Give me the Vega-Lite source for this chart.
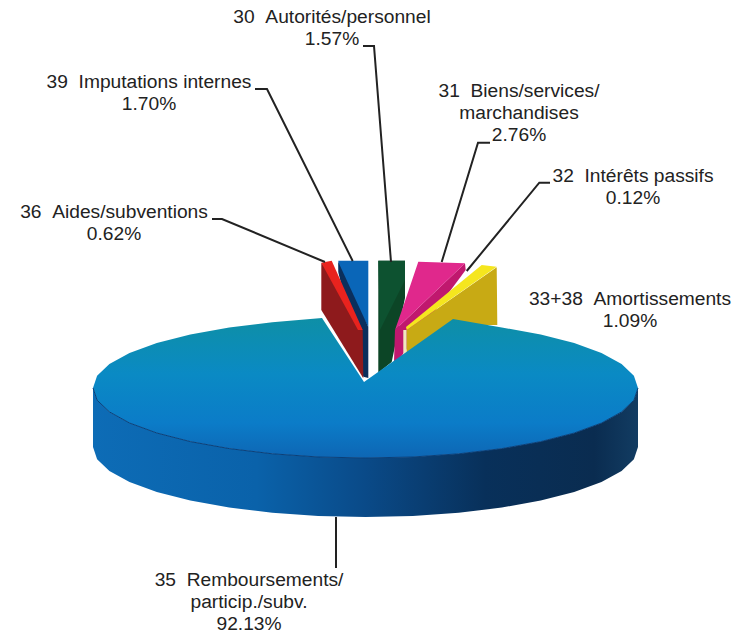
{
"$schema":"https://vega.github.io/schema/vega-lite/v6.json",
"width":734,"height":635,"padding":0,"autosize":{"type":"fit","contains":"padding"},
"background":"white",
"config":{"view":{"stroke":null}},
"datasets":{
"faces":[
{"part":"39 top","n":1,"x":338.3,"y":260.7},{"part":"39 top","n":2,"x":368.3,"y":260.7},{"part":"39 top","n":3,"x":368.3,"y":327},{"part":"39 top","n":4,"x":339,"y":275},
{"part":"39 side","n":1,"x":338.3,"y":262},{"part":"39 side","n":2,"x":338.3,"y":272},{"part":"39 side","n":3,"x":363.3,"y":376.7},{"part":"39 side","n":4,"x":368.3,"y":378},{"part":"39 side","n":5,"x":368.3,"y":327},
{"part":"36 side","n":1,"x":321.3,"y":262.7},{"part":"36 side","n":2,"x":321.3,"y":310},{"part":"36 side","n":3,"x":363.3,"y":378.3},{"part":"36 side","n":4,"x":362.7,"y":330},{"part":"36 side","n":5,"x":336.7,"y":280},
{"part":"36 top","n":1,"x":321.3,"y":262.7},{"part":"36 top","n":2,"x":331.7,"y":260.7},{"part":"36 top","n":3,"x":362.7,"y":330},{"part":"36 top","n":4,"x":358,"y":330},
{"part":"30 side","n":1,"x":378.3,"y":260.7},{"part":"30 side","n":2,"x":405,"y":260.7},{"part":"30 side","n":3,"x":405,"y":298},{"part":"30 side","n":4,"x":391.7,"y":362},{"part":"30 side","n":5,"x":381.7,"y":370},{"part":"30 side","n":6,"x":378.3,"y":373},
{"part":"30 top","n":1,"x":378.3,"y":260.7},{"part":"30 top","n":2,"x":405,"y":260.7},{"part":"30 top","n":3,"x":405,"y":280},{"part":"30 top","n":4,"x":380,"y":330},
{"part":"31 side","n":1,"x":465,"y":263.3},{"part":"31 side","n":2,"x":465.7,"y":270},{"part":"31 side","n":3,"x":400,"y":358},{"part":"31 side","n":4,"x":394,"y":361.7},{"part":"31 side","n":5,"x":395,"y":330},
{"part":"31 top","n":1,"x":418.3,"y":261.7},{"part":"31 top","n":2,"x":465,"y":263.3},{"part":"31 top","n":3,"x":395,"y":330},{"part":"31 top","n":4,"x":403,"y":307},
{"part":"32 side","n":1,"x":403.3,"y":330},{"part":"32 side","n":2,"x":406.7,"y":330},{"part":"32 side","n":3,"x":406.7,"y":353},{"part":"32 side","n":4,"x":403.3,"y":355},
{"part":"33 side","n":1,"x":496.7,"y":267.3},{"part":"33 side","n":2,"x":497.3,"y":325},{"part":"33 side","n":3,"x":453,"y":325},{"part":"33 side","n":4,"x":406.7,"y":354},{"part":"33 side","n":5,"x":406.7,"y":330},
{"part":"33 top","n":1,"x":481.7,"y":265},{"part":"33 top","n":2,"x":496.7,"y":266.7},{"part":"33 top","n":3,"x":406.7,"y":330},{"part":"33 top","n":4,"x":406,"y":327},
{"part":"35 side","n":1,"x":93,"y":388},{"part":"35 side","n":2,"x":97.1,"y":400.2},{"part":"35 side","n":3,"x":109.4,"y":411.9},{"part":"35 side","n":4,"x":129.5,"y":423},{"part":"35 side","n":5,"x":156.8,"y":433},{"part":"35 side","n":6,"x":190.3,"y":441.6},{"part":"35 side","n":7,"x":229.2,"y":448.6},{"part":"35 side","n":8,"x":272.3,"y":453.8},{"part":"35 side","n":9,"x":318.2,"y":457},{"part":"35 side","n":10,"x":365.5,"y":458},{"part":"35 side","n":11,"x":412.8,"y":457},{"part":"35 side","n":12,"x":458.7,"y":453.8},{"part":"35 side","n":13,"x":501.8,"y":448.6},{"part":"35 side","n":14,"x":540.7,"y":441.6},{"part":"35 side","n":15,"x":574.2,"y":433},{"part":"35 side","n":16,"x":601.5,"y":423},{"part":"35 side","n":17,"x":621.6,"y":411.9},{"part":"35 side","n":18,"x":633.9,"y":400.2},{"part":"35 side","n":19,"x":638,"y":388},
{"part":"35 side","n":20,"x":638,"y":447},{"part":"35 side","n":21,"x":633.9,"y":459.2},{"part":"35 side","n":22,"x":621.6,"y":470.9},{"part":"35 side","n":23,"x":601.5,"y":482},{"part":"35 side","n":24,"x":574.2,"y":492},{"part":"35 side","n":25,"x":540.7,"y":500.6},{"part":"35 side","n":26,"x":501.8,"y":507.6},{"part":"35 side","n":27,"x":458.7,"y":512.8},{"part":"35 side","n":28,"x":412.8,"y":516},{"part":"35 side","n":29,"x":365.5,"y":517},{"part":"35 side","n":30,"x":318.2,"y":516},{"part":"35 side","n":31,"x":272.3,"y":512.8},{"part":"35 side","n":32,"x":229.2,"y":507.6},{"part":"35 side","n":33,"x":190.3,"y":500.6},{"part":"35 side","n":34,"x":156.8,"y":492},{"part":"35 side","n":35,"x":129.5,"y":482},{"part":"35 side","n":36,"x":109.4,"y":470.9},{"part":"35 side","n":37,"x":97.1,"y":459.2},{"part":"35 side","n":38,"x":93,"y":447},
{"part":"35 top","n":1,"x":93,"y":388},{"part":"35 top","n":2,"x":97.1,"y":375.8},{"part":"35 top","n":3,"x":109.4,"y":364.1},{"part":"35 top","n":4,"x":129.5,"y":353},{"part":"35 top","n":5,"x":156.8,"y":343},{"part":"35 top","n":6,"x":190.3,"y":334.4},{"part":"35 top","n":7,"x":229.2,"y":327.4},{"part":"35 top","n":8,"x":272.3,"y":322.2},{"part":"35 top","n":9,"x":322,"y":318},{"part":"35 top","n":10,"x":364,"y":382},{"part":"35 top","n":11,"x":453,"y":319},{"part":"35 top","n":12,"x":501.8,"y":327.4},{"part":"35 top","n":13,"x":540.7,"y":334.4},{"part":"35 top","n":14,"x":574.2,"y":343},{"part":"35 top","n":15,"x":601.5,"y":353},{"part":"35 top","n":16,"x":621.6,"y":364.1},{"part":"35 top","n":17,"x":633.9,"y":375.8},{"part":"35 top","n":18,"x":638,"y":388},{"part":"35 top","n":19,"x":633.9,"y":400.2},{"part":"35 top","n":20,"x":621.6,"y":411.9},{"part":"35 top","n":21,"x":601.5,"y":423},{"part":"35 top","n":22,"x":574.2,"y":433},{"part":"35 top","n":23,"x":540.7,"y":441.6},{"part":"35 top","n":24,"x":501.8,"y":448.6},{"part":"35 top","n":25,"x":458.7,"y":453.8},{"part":"35 top","n":26,"x":412.8,"y":457},{"part":"35 top","n":27,"x":365.5,"y":458},{"part":"35 top","n":28,"x":318.2,"y":457},{"part":"35 top","n":29,"x":272.3,"y":453.8},{"part":"35 top","n":30,"x":229.2,"y":448.6},{"part":"35 top","n":31,"x":190.3,"y":441.6},{"part":"35 top","n":32,"x":156.8,"y":433},{"part":"35 top","n":33,"x":129.5,"y":423},{"part":"35 top","n":34,"x":109.4,"y":411.9},{"part":"35 top","n":35,"x":97.1,"y":400.2}
],
"leaders":[
{"slice":"30","n":1,"x":363,"y":46},{"slice":"30","n":2,"x":374,"y":46},{"slice":"30","n":3,"x":391,"y":262},
{"slice":"39","n":1,"x":255,"y":89},{"slice":"39","n":2,"x":267,"y":89},{"slice":"39","n":3,"x":352.7,"y":261},
{"slice":"36","n":1,"x":212,"y":219},{"slice":"36","n":2,"x":222,"y":219},{"slice":"36","n":3,"x":325,"y":262},
{"slice":"31","n":1,"x":490,"y":142.7},{"slice":"31","n":2,"x":478,"y":142.7},{"slice":"31","n":3,"x":441.7,"y":262},
{"slice":"32","n":1,"x":550,"y":182.7},{"slice":"32","n":2,"x":539.3,"y":182.7},{"slice":"32","n":3,"x":466.7,"y":271},
{"slice":"35","n":1,"x":336,"y":517},{"slice":"35","n":2,"x":336,"y":568}
],
"labels":[
{"code":"30","name":"Autorités/personnel","share":1.57,"text":"30\u00a0\u00a0Autorités/personnel\n1.57%","x":332,"y":8},
{"code":"39","name":"Imputations internes","share":1.70,"text":"39\u00a0\u00a0Imputations internes\n1.70%","x":149,"y":73},
{"code":"31","name":"Biens/services/marchandises","share":2.76,"text":"31\u00a0\u00a0Biens/services/\nmarchandises\n2.76%","x":519,"y":82},
{"code":"32","name":"Intérêts passifs","share":0.12,"text":"32\u00a0\u00a0Intérêts passifs\n0.12%","x":633,"y":167},
{"code":"33+38","name":"Amortissements","share":1.09,"text":"33+38\u00a0\u00a0Amortissements\n1.09%","x":630,"y":290},
{"code":"36","name":"Aides/subventions","share":0.62,"text":"36\u00a0\u00a0Aides/subventions\n0.62%","x":114,"y":203},
{"code":"35","name":"Remboursements/particip./subv.","share":92.13,"text":"35\u00a0\u00a0Remboursements/\nparticip./subv.\n92.13%","x":249,"y":571}
]
},
"encoding":{
"x":{"field":"x","type":"quantitative","scale":{"domain":[0,734],"nice":false},"axis":null},
"y":{"field":"y","type":"quantitative","scale":{"domain":[635,0],"nice":false},"axis":null}
},
"layer":[
{"data":{"name":"faces"},"transform":[{"filter":"indexof(datum.part,'35')!==0"}],
 "mark":{"type":"line","filled":true,"strokeWidth":0},
 "encoding":{"order":{"field":"n","type":"quantitative"},
  "color":{"field":"part","type":"nominal","legend":null,"scale":{
   "domain":["36 side","36 top","39 top","39 side","30 side","30 top","31 side","31 top","32 side","33 side","33 top"],
   "range":["#8e1a1c","#e8231e","#0a66b8","#0b2f5c","#0c4526","#0d5230","#c0186e","#e0288c","#efe9c0","#c8aa14","#f5e61e"]}}}},
{"data":{"name":"faces"},"transform":[{"filter":"datum.part==='35 side'"}],
 "mark":{"type":"line","filled":true,"strokeWidth":0,"fill":{"gradient":"linear","x1":0,"y1":0,"x2":1,"y2":0,"stops":[{"offset":0,"color":"#0d6cb6"},{"offset":0.3,"color":"#0a62aa"},{"offset":0.5,"color":"#0a4a88"},{"offset":0.72,"color":"#08305a"},{"offset":0.92,"color":"#0a2c50"},{"offset":1,"color":"#123c62"}]}},
 "encoding":{"order":{"field":"n","type":"quantitative"}}},
{"data":{"name":"faces"},"transform":[{"filter":"datum.part==='35 top'"}],
 "mark":{"type":"line","filled":true,"strokeWidth":0,"fill":{"gradient":"linear","x1":0,"y1":0,"x2":0,"y2":1,"stops":[{"offset":0,"color":"#0e8fa6"},{"offset":0.4,"color":"#0a8ac4"},{"offset":0.75,"color":"#0b7cc8"},{"offset":1,"color":"#0e66b4"}]}},
 "encoding":{"order":{"field":"n","type":"quantitative"}}},
{"data":{"name":"faces"},"transform":[{"filter":"datum.part==='35 side' && datum.n<=19"}],
 "mark":{"type":"line","color":"#0a3f78","strokeWidth":1},
 "encoding":{"order":{"field":"n","type":"quantitative"}}},
{"data":{"name":"leaders"},
 "mark":{"type":"line","color":"#222222","strokeWidth":2},
 "encoding":{"order":{"field":"n","type":"quantitative"},"detail":{"field":"slice","type":"nominal"}}},
{"data":{"name":"labels"},
 "mark":{"type":"text","font":"Liberation Sans","fontSize":19.2,"align":"center","baseline":"top","lineBreak":"\n","lineHeight":22,"color":"#222222"},
 "encoding":{"text":{"field":"text","type":"nominal"}}}
]
}
